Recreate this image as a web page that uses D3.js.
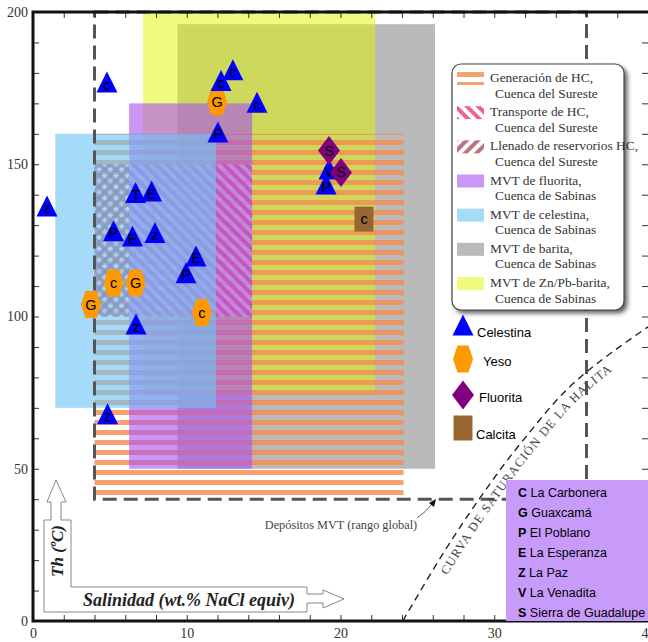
<!DOCTYPE html>
<html>
<head>
<meta charset="utf-8">
<script src="https://cdn.jsdelivr.net/npm/d3@7"></script>
<style>
  body { margin: 0; background: #fff; }
  svg { display: block; }
</style>
</head>
<body>
<svg id="chart" width="648" height="642"></svg>
<script>
// Salinity (wt.% NaCl equiv) vs. homogenisation temperature Th (ºC)
const xTicks = [0, 10, 20, 30, 40];
const yTicks = [0, 50, 100, 150, 200];

// Reference fields
const fieldLabels = ["Generación de HC,", "Transporte de HC,", "Llenado de reservorios HC,",
  "MVT de fluorita,", "MVT de celestina,", "MVT de barita,", "MVT de Zn/Pb-barita,"];
const fieldBasins = ["Cuenca del Sureste", "Cuenca del Sureste", "Cuenca del Sureste",
  "Cuenca de Sabinas", "Cuenca de Sabinas", "Cuenca de Sabinas", "Cuenca de Sabinas"];
const fieldSal = [[4, 24.1], [4, 14.25], [4, 6.25], [6.25, 14.25], [1.45, 11.9], [9.4, 26.15], [7.15, 22.25]];
const fieldTh = [[40, 160], [100, 150], [100, 150], [50, 170], [70, 160], [50, 196], [75, 200]];
const fieldOrder = [5, 6, 0, 1, 2, 3, 4];

// Global range of MVT deposits
const mvtSal = [4, 36];
const mvtTh = [40, 200];

// Halite saturation curve
const haliteSal = [24.05, 28.4, 31.9, 35.4, 40];
const haliteTh = [0, 35.5, 59.5, 79.2, 96.6];

// Fluid-inclusion averages: [salinity, Th, locality code]
const celestina = [
  [4.81, 177.0, "c"], [12.23, 177.5, "c"], [13.0, 181.0, "c"], [14.57, 170.4, "c"],
  [12.03, 160.6, "P"], [6.67, 140.7, "T"], [7.71, 141.2, "E"], [0.91, 136.3, "z"],
  [5.24, 128.2, "P"], [6.47, 126.4, "E"], [7.93, 127.6, "z"], [10.6, 119.9, "E"],
  [9.95, 114.4, "P"], [6.7, 97.5, "z"], [4.85, 68.1, "z"],
  [19.25, 148.4, "V"], [19.06, 143.5, "P"]
];
const yeso = [[11.97, 170.5, "G"], [5.24, 111.0, "c"], [6.67, 111.0, "G"], [3.77, 103.9, "G"], [10.99, 101.3, "c"]];
const fluorita = [[19.25, 154.5, "S"], [20.03, 147.3, "S"]];
const calcita = [[21.53, 132.0, "c"]];

const mineralNames = ["Celestina", "Yeso", "Fluorita", "Calcita"];
const siteCodes = ["C", "G", "P", "E", "Z", "V", "S"];
const siteNames = ["La Carbonera", "Guaxcamá", "El Poblano", "La Esperanza", "La Paz", "La Venadita", "Sierra de Guadalupe"];

const SERIF = "'Liberation Serif', 'Times New Roman', serif";
const SANS = "'Liberation Sans', Arial, sans-serif";

const svg = d3.select("#chart");
const x = d3.scaleLinear().domain([0, 40]).range([33, 648]);
const y = d3.scaleLinear().domain([0, 200]).range([621, 12]);

// ---------- patterns & filters ----------
const defs = svg.append("defs");
const stripes = defs.append("pattern").attr("id", "stripes")
  .attr("patternUnits", "userSpaceOnUse").attr("width", 10).attr("height", 10);
stripes.append("rect").attr("width", 10).attr("height", 5).attr("fill", "rgb(243,142,80)").attr("fill-opacity", 0.82);

function hatch(id, angle, color, bgOpacity, lineOpacity) {
  const p = defs.append("pattern").attr("id", id)
    .attr("patternUnits", "userSpaceOnUse").attr("width", 8).attr("height", 8)
    .attr("patternTransform", `rotate(${angle})`);
  p.append("rect").attr("width", 8).attr("height", 8).attr("fill", "#fff").attr("fill-opacity", bgOpacity);
  p.append("rect").attr("width", 4).attr("height", 8).attr("fill", color).attr("fill-opacity", lineOpacity);
}
hatch("hatchT", -45, "rgb(236,86,126)", 0.5, 0.92);
hatch("hatchL", 45, "rgb(170,80,92)", 0.0, 0.8);

const shadow = defs.append("filter").attr("id", "shadow").attr("x", "-10%").attr("y", "-10%").attr("width", "130%").attr("height", "130%");
shadow.append("feDropShadow").attr("dx", 3).attr("dy", 3).attr("stdDeviation", 2).attr("flood-color", "#333").attr("flood-opacity", 0.75);

const fieldFill = ["url(#stripes)", "url(#hatchT)", "url(#hatchL)",
  "rgba(170,80,240,0.6)", "rgba(110,195,245,0.62)", "#bababa", "rgba(225,245,0,0.5)"];

// ---------- reference fields ----------
svg.append("g").selectAll("rect").data(fieldOrder).join("rect")
  .attr("x", i => x(fieldSal[i][0]))
  .attr("width", i => x(fieldSal[i][1]) - x(fieldSal[i][0]))
  .attr("y", i => y(fieldTh[i][1]))
  .attr("height", i => y(fieldTh[i][0]) - y(fieldTh[i][1]))
  .attr("fill", i => fieldFill[i]);

// ---------- MVT global range ----------
svg.append("rect")
  .attr("x", x(mvtSal[0])).attr("width", x(mvtSal[1]) - x(mvtSal[0]))
  .attr("y", y(mvtTh[1])).attr("height", y(mvtTh[0]) - y(mvtTh[1]))
  .attr("fill", "none").attr("stroke", "#555").attr("stroke-width", 3)
  .attr("stroke-dasharray", "14,7");

svg.append("text").attr("x", 341).attr("y", 529).attr("text-anchor", "middle")
  .attr("font-family", SERIF).attr("font-size", 12.3).attr("fill", "#444")
  .text("Depósitos MVT (rango global)");
svg.append("path").attr("d", "M417,518 Q426,512 432,504").attr("fill", "none").attr("stroke", "#333").attr("stroke-width", 0.8);
svg.append("path").attr("d", "M436,499 L429,503 L434,507 Z").attr("fill", "#111");

// ---------- halite saturation curve ----------
const halitePts = haliteSal.map((s, i) => [x(s), y(haliteTh[i])]);
svg.append("path").attr("id", "halite")
  .attr("d", d3.line().curve(d3.curveMonotoneY)(halitePts))
  .attr("fill", "none").attr("stroke", "#222").attr("stroke-width", 1.4)
  .attr("stroke-dasharray", "7,5");
svg.append("text").attr("font-family", SERIF).attr("font-size", 12.5).attr("fill", "#444")
  .attr("dy", 15)
  .append("textPath").attr("href", "#halite").attr("startOffset", 62)
  .attr("textLength", 270).attr("lengthAdjust", "spacing")
  .text("CURVA DE SATURACIÓN DE LA HALITA");

// ---------- axes ----------
const axes = svg.append("g");
function tickAxis(gen, tx, ty, vals, size) {
  const g = axes.append("g").attr("transform", `translate(${tx},${ty})`)
    .call(gen.tickValues(vals).tickSize(size).tickFormat(""));
  g.select(".domain").remove();
  g.selectAll("line").attr("stroke", "#333").attr("stroke-width", 1);
  return g;
}
const xMinor = d3.range(0, 41, 2);
const yMinor = d3.range(0, 201, 10);
tickAxis(d3.axisBottom(x), 0, y(0), xMinor, -6);
tickAxis(d3.axisTop(x), 0, y(200), xMinor, -6);
tickAxis(d3.axisLeft(y), x(0), 0, yMinor, -6);
tickAxis(d3.axisRight(y), x(40), 0, yMinor, -6);

const xLab = axes.append("g").attr("transform", `translate(0,${y(0)})`)
  .call(d3.axisBottom(x).tickValues(xTicks).tickSize(0).tickPadding(7).tickFormat(d3.format("d")));
xLab.select(".domain").remove();
xLab.selectAll("text").attr("font-family", SERIF).attr("font-size", 14).attr("fill", "#333");

const yLab = axes.append("g").attr("transform", `translate(${x(0)},0)`)
  .call(d3.axisLeft(y).tickValues(yTicks).tickSize(0).tickPadding(5).tickFormat(d3.format("d")));
yLab.select(".domain").remove();
yLab.selectAll("text").attr("font-family", SERIF).attr("font-size", 14).attr("fill", "#333");

axes.append("path")
  .attr("d", `M${x(40)},${y(200)} H${x(0)} V${y(0)} H${x(40)}`)
  .attr("fill", "none").attr("stroke", "#111").attr("stroke-width", 3);

// axis-title arrows
svg.append("path")
  .attr("d", "M44,520 H51 V502 H47 L56,480 L66,502 H61 V520 H71 V587 H307 V594 H323 V590 L344,599 L323,608 V603 H307 V612 H44 Z")
  .attr("fill", "#fff").attr("stroke", "#888").attr("stroke-width", 1);
svg.append("text").attr("transform", "translate(63,551) rotate(-90)").attr("text-anchor", "middle")
  .attr("font-family", SERIF).attr("font-size", 17).attr("font-weight", "bold").attr("font-style", "italic")
  .attr("fill", "#222").text("Th (ºC)");
svg.append("text").attr("x", 189).attr("y", 606).attr("text-anchor", "middle")
  .attr("font-family", SERIF).attr("font-size", 18).attr("font-weight", "bold").attr("font-style", "italic")
  .attr("fill", "#222").text("Salinidad (wt.% NaCl equiv)");

// ---------- markers ----------
const shapes = {
  tri: "M0,-10.5 L10.5,10.5 L-10.5,10.5 Z",
  hex: "M-10,0 L-5.5,-13.5 L5.5,-13.5 L10,0 L5.5,13.5 L-5.5,13.5 Z",
  dia: "M0,-14.5 L11,0 L0,14.5 L-11,0 Z",
  sq: "M-9.5,-12.5 H9.5 V12.5 H-9.5 Z"
};
const series = [
  { data: celestina, shape: "tri", color: "#0000ff", dy: 7.5 },
  { data: yeso, shape: "hex", color: "#ff9900", dy: 5 },
  { data: fluorita, shape: "dia", color: "#800080", dy: 5 },
  { data: calcita, shape: "sq", color: "#996633", dy: 5 }
];
const mk = svg.append("g");
[1, 0, 2, 3].forEach(si => {
  const s = series[si];
  const g = mk.append("g").selectAll("g").data(s.data).join("g")
    .attr("transform", d => `translate(${x(d[0])},${y(d[1])})`);
  g.append("path").attr("d", shapes[s.shape]).attr("fill", s.color);
  g.append("text").attr("y", s.dy).attr("text-anchor", "middle")
    .attr("font-family", SANS).attr("font-size", 14.5).attr("fill", "#000")
    .text(d => d[2]);
});

// ---------- field legend ----------
const lg = svg.append("g");
lg.append("rect").attr("x", 452).attr("y", 64).attr("width", 172).attr("height", 246).attr("rx", 9)
  .attr("fill", "#fff").attr("stroke", "#444").attr("stroke-width", 1.2).attr("filter", "url(#shadow)");
const legendRows = [0, 1, 2, 3, 4, 5, 6];
const rowY = d3.scaleLinear().domain([0, 6]).range([72, 277]);
const lr = lg.selectAll("g.row").data(legendRows).join("g").attr("class", "row")
  .attr("transform", i => `translate(0,${rowY(i)})`);
lr.append("rect").attr("x", 457).attr("width", 27).attr("height", 13).attr("fill", "#fff");
lr.append("rect").attr("x", 457).attr("width", 27).attr("height", 13).attr("fill", i => fieldFill[i]);
lr.append("text").attr("x", 490).attr("y", 10).attr("font-family", SERIF).attr("font-size", 13.4).attr("fill", "#333")
  .text(i => fieldLabels[i]);
lr.append("text").attr("x", 495).attr("y", 25.5).attr("font-family", SERIF).attr("font-size", 13.4).attr("fill", "#333")
  .text(i => fieldBasins[i]);

// ---------- mineral legend ----------
const mLegY = [325, 359, 395, 428];
const mLegTextX = [477, 483, 479, 476];
const mLegTextY = [337, 366, 402, 439];
mineralNames.forEach((name, i) => {
  svg.append("path").attr("d", shapes[series[i].shape]).attr("fill", series[i].color)
    .attr("transform", `translate(463,${mLegY[i]})`);
  svg.append("text").attr("x", mLegTextX[i]).attr("y", mLegTextY[i])
    .attr("font-family", SANS).attr("font-size", 13).attr("fill", "#000").text(name);
});

// ---------- locality legend ----------
svg.append("rect").attr("x", 506).attr("y", 480).attr("width", 142).attr("height", 141).attr("fill", "#c89bfa");
const sRow = svg.append("g").selectAll("text").data(siteCodes).join("text")
  .attr("x", 518).attr("y", (d, i) => 497 + i * 20)
  .attr("font-family", SANS).attr("font-size", 12.5).attr("fill", "#000");
sRow.append("tspan").attr("font-weight", "bold").text(d => d);
sRow.append("tspan").text((d, i) => " " + siteNames[i]);
</script>
</body>
</html>
